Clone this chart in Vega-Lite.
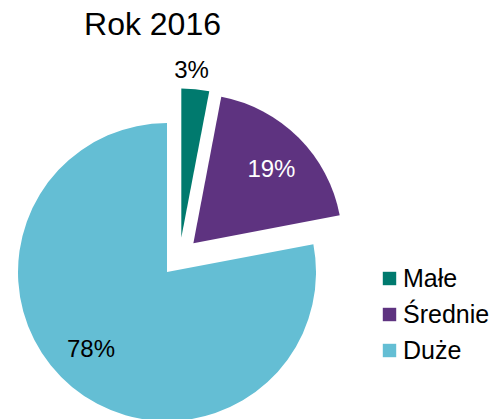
{
  "$schema": "https://vega.github.io/schema/vega-lite/v6.json",
  "width": 359,
  "height": 324,
  "autosize": {"type": "none"},
  "padding": {"left": 0, "top": 95, "right": 136, "bottom": 0},
  "background": "white",
  "config": {"view": {"stroke": null}, "font": "Liberation Sans"},
  "title": {"text": "Rok 2016", "fontSize": 32, "fontWeight": "normal", "color": "black", "font": "Liberation Sans", "anchor": "middle", "frame": "group", "dx": -27, "baseline": "alphabetic", "offset": -8},
  "data": {"values": [
    {"kategoria": "Małe", "udzial": 0.03},
    {"kategoria": "Średnie", "udzial": 0.19},
    {"kategoria": "Duże", "udzial": 0.78}
  ]},
  "transform": [
    {"stack": "udzial", "groupby": [], "sort": [{"field": "udzial", "order": "ascending"}], "as": ["start", "end"]}
  ],
  "layer": [
    {
      "transform": [{"filter": "datum.kategoria === 'Małe'"}],
      "mark": {"type": "arc", "radius": 149, "xOffset": 1.84, "yOffset": -19.51},
      "encoding": {
        "theta": {"field": "start", "type": "quantitative", "scale": {"domain": [0, 1]}},
        "theta2": {"field": "end"},
        "color": {
          "field": "kategoria", "type": "nominal",
          "scale": {"domain": ["Małe", "Średnie", "Duże"], "range": ["#007A6E", "#5E3380", "#64BED4"]},
          "legend": {"orient": "none", "legendX": 377, "legendY": 171, "title": null, "symbolType": "square", "symbolSize": 180, "symbolStrokeWidth": 0, "labelFontSize": 25, "labelFont": "Liberation Sans", "labelColor": "black", "rowPadding": 10, "labelOffset": 1, "padding": 0}
        }
      }
    },
    {
      "transform": [{"filter": "datum.kategoria === 'Średnie'"}],
      "mark": {"type": "arc", "radius": 149, "xOffset": 13.86, "yOffset": -13.86},
      "encoding": {
        "theta": {"field": "start", "type": "quantitative", "scale": {"domain": [0, 1]}},
        "theta2": {"field": "end"},
        "color": {"field": "kategoria", "type": "nominal"}
      }
    },
    {
      "transform": [{"filter": "datum.kategoria === 'Duże'"}],
      "mark": {"type": "arc", "radius": 149, "xOffset": -12.49, "yOffset": 15.1},
      "encoding": {
        "theta": {"field": "start", "type": "quantitative", "scale": {"domain": [0, 1]}},
        "theta2": {"field": "end"},
        "color": {"field": "kategoria", "type": "nominal"}
      }
    },
    {
      "mark": {"type": "text", "radius": 167, "xOffset": 1.84, "yOffset": -19.51, "dx": -5.5, "fontSize": 24, "font": "Liberation Sans", "color": "black"},
      "encoding": {
        "theta": {"field": "udzial", "type": "quantitative", "stack": true},
        "order": {"field": "udzial", "type": "quantitative", "sort": "ascending"},
        "text": {"condition": {"test": "datum.kategoria === 'Małe'", "field": "udzial", "type": "quantitative", "format": ".0%"}, "value": ""}
      }
    },
    {
      "mark": {"type": "text", "radius": 107, "xOffset": 13.86, "yOffset": -13.86, "dx": 2.4, "dy": 2.6, "fontSize": 24, "font": "Liberation Sans", "color": "white"},
      "encoding": {
        "theta": {"field": "udzial", "type": "quantitative", "stack": true},
        "order": {"field": "udzial", "type": "quantitative", "sort": "ascending"},
        "text": {"condition": {"test": "datum.kategoria === 'Średnie'", "field": "udzial", "type": "quantitative", "format": ".0%"}, "value": ""}
      }
    },
    {
      "mark": {"type": "text", "radius": 109, "xOffset": -12.49, "yOffset": 15.1, "dx": -6.5, "dy": -6, "fontSize": 24, "font": "Liberation Sans", "color": "black"},
      "encoding": {
        "theta": {"field": "udzial", "type": "quantitative", "stack": true},
        "order": {"field": "udzial", "type": "quantitative", "sort": "ascending"},
        "text": {"condition": {"test": "datum.kategoria === 'Duże'", "field": "udzial", "type": "quantitative", "format": ".0%"}, "value": ""}
      }
    }
  ]
}
